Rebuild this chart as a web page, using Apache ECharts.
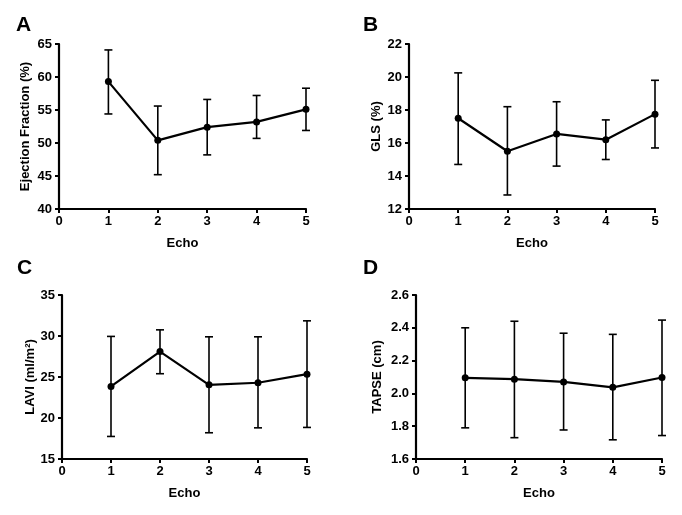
<!DOCTYPE html>
<html>
<head>
<meta charset="utf-8">
<script src="https://cdn.jsdelivr.net/npm/echarts@6/dist/echarts.min.js"></script>
<style>
html,body{margin:0;padding:0;background:#fff;}
#chart{width:682px;height:515px;}
</style>
</head>
<body>
<div id="chart"></div>
<script>
// Data
const echo = [1, 2, 3, 4, 5];

const efMean = [59.3, 50.4, 52.4, 53.2, 55.1];
const efLow  = [54.4, 45.2, 48.2, 50.7, 51.9];
const efHigh = [64.1, 55.6, 56.6, 57.2, 58.3];

const glsMean = [17.5, 15.5, 16.55, 16.2, 17.75];
const glsLow  = [14.7, 12.85, 14.6, 15.0, 15.7];
const glsHigh = [20.25, 18.2, 18.5, 17.4, 19.8];

const laviMean = [23.85, 28.1, 24.05, 24.3, 25.35];
const laviLow  = [17.75, 25.4, 18.2, 18.8, 18.85];
const laviHigh = [29.95, 30.75, 29.9, 29.9, 31.85];

const tapseMean = [2.095, 2.087, 2.07, 2.037, 2.097];
const tapseLow  = [1.79, 1.73, 1.777, 1.717, 1.743];
const tapseHigh = [2.4, 2.44, 2.367, 2.36, 2.447];

const panels = [
  {letter: 'A', yName: 'Ejection Fraction (%)', min: 40, max: 65, interval: 5, decimals: 0,
   mean: efMean, low: efLow, high: efHigh, nameGap: 27},
  {letter: 'B', yName: 'GLS (%)', min: 12, max: 22, interval: 2, decimals: 0,
   mean: glsMean, low: glsLow, high: glsHigh, nameGap: 26},
  {letter: 'C', yName: 'LAVI (ml/m²)', min: 15, max: 35, interval: 5, decimals: 0,
   mean: laviMean, low: laviLow, high: laviHigh, nameGap: 25},
  {letter: 'D', yName: 'TAPSE (cm)', min: 1.6, max: 2.6, interval: 0.2, decimals: 1,
   mean: tapseMean, low: tapseLow, high: tapseHigh, nameGap: 32}
];

// Layout (pixels)
const gridBoxes = [
  {left: 59, top: 44, width: 247, height: 165},
  {left: 409, top: 44, width: 246, height: 165},
  {left: 62, top: 295, width: 245, height: 164},
  {left: 416, top: 295, width: 246, height: 164}
];
const letterPos = [
  {left: 11, top: 10}, {left: 358, top: 10}, {left: 12, top: 253}, {left: 358, top: 253}
];

const FONT = 'Liberation Sans, Arial, sans-serif';
const axisLineStyle = {color: '#000', width: 2.2};

const chart = echarts.init(document.getElementById('chart'));

const grids = [], xAxes = [], yAxes = [], series = [], titles = [];

panels.forEach((p, i) => {
  grids.push(Object.assign({containLabel: false}, gridBoxes[i]));
  titles.push({
    text: p.letter, left: letterPos[i].left, top: letterPos[i].top,
    textStyle: {fontFamily: FONT, fontWeight: 'bold', fontSize: 21, color: '#000'}
  });
  xAxes.push({
    gridIndex: i, type: 'value', min: 0, max: 5, interval: 1,
    name: 'Echo', nameLocation: 'middle', nameGap: 28,
    nameTextStyle: {fontFamily: FONT, fontWeight: 'bold', fontSize: 13, color: '#000'},
    axisLine: {show: true, onZero: false, lineStyle: axisLineStyle},
    axisTick: {show: true, inside: false, length: 4, lineStyle: {color: '#000', width: 2}},
    axisLabel: {fontFamily: FONT, fontWeight: 'bold', fontSize: 13, color: '#000', margin: 6},
    splitLine: {show: false}
  });
  yAxes.push({
    gridIndex: i, type: 'value', min: p.min, max: p.max, interval: p.interval,
    name: p.yName, nameLocation: 'middle', nameGap: p.nameGap, nameRotate: 90,
    nameTextStyle: {fontFamily: FONT, fontWeight: 'bold', fontSize: 13, color: '#000'},
    axisLine: {show: true, onZero: false, lineStyle: axisLineStyle},
    axisTick: {show: true, inside: false, length: 4, lineStyle: {color: '#000', width: 2}},
    axisLabel: {fontFamily: FONT, fontWeight: 'bold', fontSize: 13, color: '#000', margin: 7,
      formatter: v => v.toFixed(p.decimals)},
    splitLine: {show: false}
  });
  series.push({
    type: 'custom', xAxisIndex: i, yAxisIndex: i,
    data: echo.map((x, k) => [x, p.low[k], p.high[k]]),
    renderItem: function (params, api) {
      const x = api.value(0);
      const lo = api.coord([x, api.value(1)]);
      const hi = api.coord([x, api.value(2)]);
      const hw = 4;
      const st = {stroke: '#000', lineWidth: 1.6};
      return {
        type: 'group',
        children: [
          {type: 'line', shape: {x1: lo[0], y1: lo[1], x2: hi[0], y2: hi[1]}, style: st},
          {type: 'line', shape: {x1: hi[0] - hw, y1: hi[1], x2: hi[0] + hw, y2: hi[1]}, style: st},
          {type: 'line', shape: {x1: lo[0] - hw, y1: lo[1], x2: lo[0] + hw, y2: lo[1]}, style: st}
        ]
      };
    },
    z: 2, silent: true
  });
  series.push({
    type: 'line', xAxisIndex: i, yAxisIndex: i,
    data: echo.map((x, k) => [x, p.mean[k]]),
    symbol: 'circle', symbolSize: 7, showSymbol: true,
    lineStyle: {color: '#000', width: 2.2},
    itemStyle: {color: '#000'},
    z: 3, silent: true, animation: false
  });
});

chart.setOption({
  animation: false,
  backgroundColor: '#fff',
  title: titles,
  grid: grids,
  xAxis: xAxes,
  yAxis: yAxes,
  series: series
});
</script>
</body>
</html>
